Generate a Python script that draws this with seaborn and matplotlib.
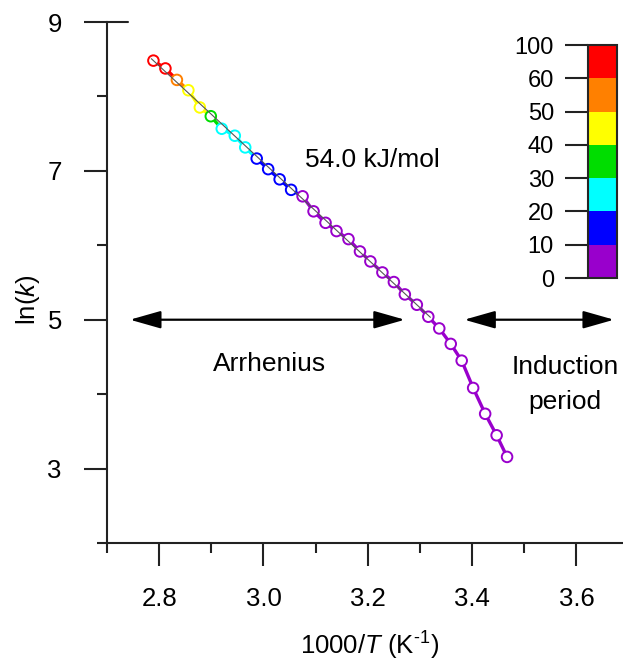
import matplotlib
matplotlib.use('Agg')
import matplotlib.pyplot as plt
import matplotlib.colors as mcolors
import numpy as np
import pandas as pd
import seaborn as sns

# datos
inv_T = [2.789, 2.812, 2.834, 2.856, 2.878, 2.899, 2.920, 2.945, 2.965, 2.987,
         3.009, 3.031, 3.053, 3.075, 3.096, 3.119, 3.140, 3.163, 3.185, 3.205,
         3.228, 3.250, 3.271, 3.294, 3.316, 3.337, 3.359, 3.380, 3.402, 3.425,
         3.447, 3.467]
ln_k = [8.481, 8.376, 8.222, 8.083, 7.852, 7.734, 7.566, 7.472, 7.315, 7.165,
        7.023, 6.886, 6.745, 6.658, 6.456, 6.302, 6.191, 6.083, 5.917, 5.783,
        5.635, 5.506, 5.340, 5.201, 5.040, 4.883, 4.675, 4.450, 4.083, 3.736,
        3.447, 3.157]
# banda de conversion (%) de cada punto
banda = [60, 60, 50, 40, 40, 30, 20, 20, 20, 10,
         10, 10, 10, 0, 0, 0, 0, 0, 0, 0,
         0, 0, 0, 0, 0, 0, 0, 0, 0, 0,
         0, 0]

limites = [0, 10, 20, 30, 40, 50, 60, 100]
colores = ['#9900CC', '#0000FF', '#00FFFF', '#00DD00', '#FFFF00', '#FF8000', '#FF0000']
Ea = 54.0  # kJ/mol
x_ajuste = [2.785, 3.320]

sns.set_style('white')
plt.rcParams['font.family'] = ['Liberation Sans', 'DejaVu Sans']
plt.rcParams['mathtext.fontset'] = 'custom'
plt.rcParams['mathtext.rm'] = 'Liberation Sans'
plt.rcParams['mathtext.it'] = 'Liberation Sans:italic'
plt.rcParams['text.color'] = 'black'
plt.rcParams['axes.labelcolor'] = 'black'
plt.rcParams['xtick.labelcolor'] = 'black'
plt.rcParams['ytick.labelcolor'] = 'black'

paleta = dict(zip(limites[:-1], colores))

df = pd.DataFrame({'invT': inv_T, 'lnk': ln_k, 'banda': banda})

# cada tramo con el color del punto inicial
tramos = []
for i in range(len(df) - 1):
    for j in (i, i + 1):
        tramos.append({'invT': inv_T[j], 'lnk': ln_k[j], 'banda': banda[i], 'seg': i})
df_tramos = pd.DataFrame(tramos)

fig = plt.figure(figsize=(6.23, 6.63), dpi=100)
ax = fig.add_axes([107 / 623, 1 - 543 / 663, 521.6 / 623, 521 / 663])

sns.lineplot(data=df_tramos, x='invT', y='lnk', hue='banda', units='seg',
             estimator=None, palette=paleta, lw=2.4, legend=False, ax=ax, zorder=2)
sns.scatterplot(data=df, x='invT', y='lnk', hue='banda', palette=paleta, s=58,
                facecolor='white', linewidth=1.4, legend=False, ax=ax, zorder=3)
# re-colorear bordes (scatter con hue pinta la cara)
coll = ax.collections[-1]
coll.set_edgecolors([paleta[b] for b in banda])
coll.set_facecolors('white')

# recta de Arrhenius
pend = -Ea / 8.314
x_aj = np.array(x_ajuste)
y_aj = ln_k[0] + pend * (x_aj - inv_T[0])
ax.plot(x_aj, y_aj, color='#555555', lw=0.8, zorder=4)

ax.set_xlim(2.7, 3.7)
ax.set_ylim(2, 9)
ax.set_xticks([2.8, 3.0, 3.2, 3.4, 3.6])
ax.set_xticks(np.arange(2.7, 3.75, 0.2), minor=True)
ax.set_yticks([3, 5, 7, 9])
ax.set_yticks([2, 4, 6, 8], minor=True)
ax.set_xticklabels(['2.8', '3.0', '3.2', '3.4', '3.6'])
for s in ['top', 'right']:
    ax.spines[s].set_visible(False)
for s in ['left', 'bottom']:
    ax.spines[s].set_linewidth(1.5)
    ax.spines[s].set_color('#222222')
ax.tick_params(which='major', direction='out', length=16.5, width=1.5, color='#222222',
               labelsize=18.5, left=True, bottom=True)
ax.tick_params(axis='x', which='major', pad=15)
ax.tick_params(axis='y', which='major', pad=16)
ax.tick_params(which='minor', direction='out', length=7.5, width=1.5, color='#222222',
               left=True, bottom=True)
ax.plot([2.7, 2.74], [9, 9], color='#222222', lw=1.5, clip_on=False)

ax.set_xlabel('1000/$\\it{T}$ (K$^{\\text{-1}}$)', fontsize=18.5)
ax.set_ylabel('ln($\\it{k}$)', fontsize=18.5)
ax.xaxis.set_label_coords((370 - 107) / 521.6, (543 - 630) / 521)
ax.xaxis.label.set_va('top')
ax.yaxis.set_label_coords((42 - 107) / 521.6, (543 - 300) / 521)

flecha = dict(arrowstyle='<|-|>,head_length=0.95,head_width=0.27', color='black',
              lw=1.6, mutation_scale=20, shrinkA=0, shrinkB=0)
ax.annotate('', xy=(2.744, 5), xytext=(3.271, 5), arrowprops=flecha)
ax.annotate('', xy=(3.385, 5), xytext=(3.672, 5), arrowprops=flecha, annotation_clip=False)

ax.text(3.080, 7.14, f'{Ea:.1f} kJ/mol', fontsize=19, ha='left', va='center')
ax.text(3.0125, 4.40, 'Arrhenius', fontsize=19, ha='center', va='center')
ax.text(3.578, 4.13, 'Induction\nperiod', fontsize=19, ha='center', va='center',
        linespacing=1.55)

# barra de color
cax = fig.add_axes([588 / 623, 1 - 278 / 663, 29 / 623, 233 / 663])
cmap = mcolors.ListedColormap(colores)
norm = mcolors.BoundaryNorm(limites, cmap.N)
cb = fig.colorbar(plt.cm.ScalarMappable(norm=norm, cmap=cmap), cax=cax,
                  ticks=limites, spacing='uniform')
cb.outline.set_linewidth(1.5)
cax.yaxis.set_ticks_position('left')
cax.yaxis.set_label_position('left')
cax.tick_params(length=16.5, width=1.5, labelsize=17, pad=8, color='#222222')

fig.savefig('out.png', dpi=100)
